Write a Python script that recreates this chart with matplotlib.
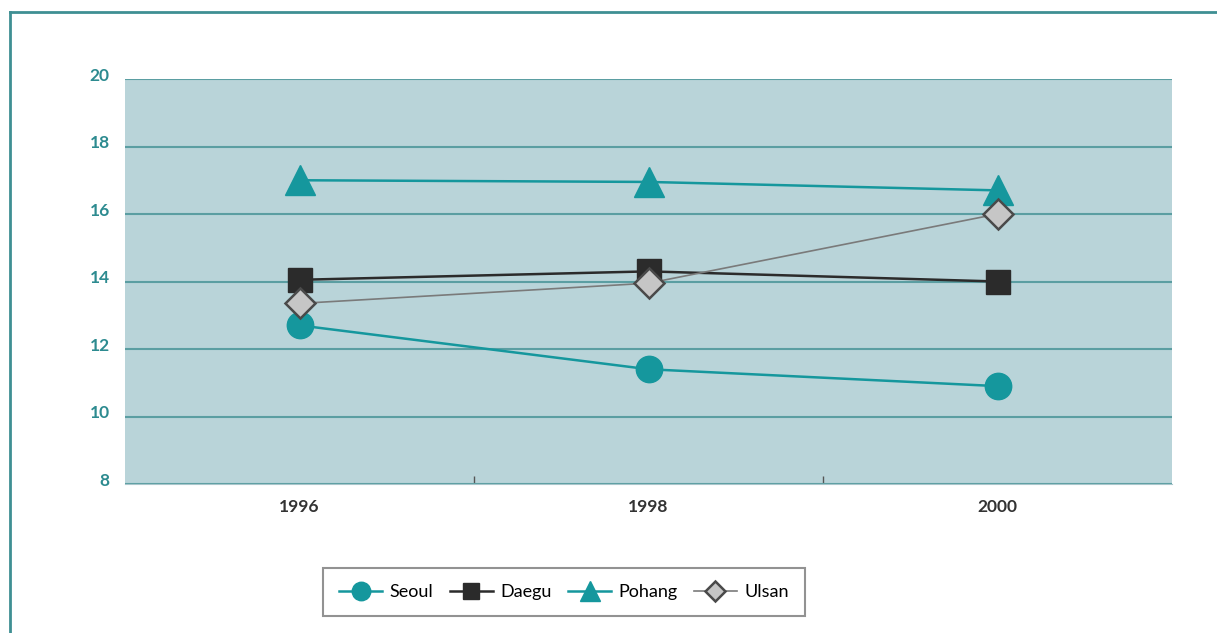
import matplotlib
matplotlib.use("Agg")
import matplotlib.pyplot as plt
from matplotlib.lines import Line2D
from matplotlib.ticker import FixedLocator
from matplotlib.transforms import ScaledTranslation

years = [1996, 1998, 2000]
seoul = [12.7, 11.4, 10.9]
daegu = [14.05, 14.3, 14.0]
pohang = [17.0, 16.95, 16.7]
ulsan = [13.35, 13.95, 16.0]
y_ticks = [8, 10, 12, 14, 16, 18, 20]

teal = "#15979d"
grid_teal = "#5b9ea2"
label_teal = "#2d8b90"
bg = "#b9d4d9"

plt.rcParams["font.family"] = ["Lato", "DejaVu Sans"]

fig = plt.figure(figsize=(12.17, 6.33), dpi=100)
ax = fig.add_axes([125 / 1217, 1 - 484 / 633, (1172 - 125) / 1217, (484 - 79) / 633])
ax.set_facecolor(bg)

ax.plot(years, seoul, color=teal, lw=1.8, marker="o", ms=19,
        mfc=teal, mec=teal, label="Seoul", zorder=3)
ax.plot(years, daegu, color="#2b2b2b", lw=1.8, marker="s", ms=17,
        mfc="#2b2b2b", mec="#2b2b2b", label="Daegu", zorder=3)
ax.plot(years, pohang, color=teal, lw=1.8, marker="^", ms=21,
        mfc=teal, mec=teal, label="Pohang", zorder=3)
ax.plot(years, ulsan, color="#7a7a7a", lw=1.2, marker="D", ms=15,
        mfc="#c6c6c6", mec="#4a4a4a", mew=1.8, label="Ulsan", zorder=4)

ax.set_xlim(1995, 2001)
ax.set_ylim(8, 20)
ax.set_yticks(y_ticks)
ax.set_xticks(years)
ax.xaxis.set_minor_locator(FixedLocator([1997, 1999]))
ax.grid(axis="y", color=grid_teal, lw=1.5, zorder=1)
ax.set_axisbelow(True)

ax.tick_params(axis="y", length=0, pad=11, labelsize=12.5, labelcolor=label_teal)
ax.tick_params(axis="x", which="major", length=0, pad=11, labelsize=12.5,
               labelcolor="#333333")
ax.tick_params(axis="x", which="minor", direction="in", length=6,
               color="#555555", width=1)
lift = ScaledTranslation(0, 5 / 100, fig.dpi_scale_trans)
for lab in ax.get_yticklabels():
    lab.set_fontweight("bold")
    lab.set_transform(lab.get_transform() + lift)
for lab in ax.get_xticklabels():
    lab.set_fontweight("bold")

for side in ["top", "right", "left"]:
    ax.spines[side].set_visible(False)
ax.spines["bottom"].set_color("#a9c6cb")

leg = ax.legend(loc="center", bbox_to_anchor=(564 / 1217, 1 - 592 / 633),
                bbox_transform=fig.transFigure, ncol=4, frameon=True,
                fancybox=False, edgecolor="#777777", fontsize=13,
                markerscale=0.7, handlelength=2.4, columnspacing=0.9,
                handletextpad=0.4, borderpad=0.9, borderaxespad=0)
leg.get_frame().set_linewidth(1.5)

# Outer teal frame
fig.add_artist(Line2D([10 / 1217, 1.0], [1 - 12 / 633, 1 - 12 / 633],
                      transform=fig.transFigure, color="#3f8f93", lw=2))
fig.add_artist(Line2D([10 / 1217, 10 / 1217], [0.0, 1 - 12 / 633],
                      transform=fig.transFigure, color="#3f8f93", lw=2))

fig.savefig("out.png", dpi=100)
